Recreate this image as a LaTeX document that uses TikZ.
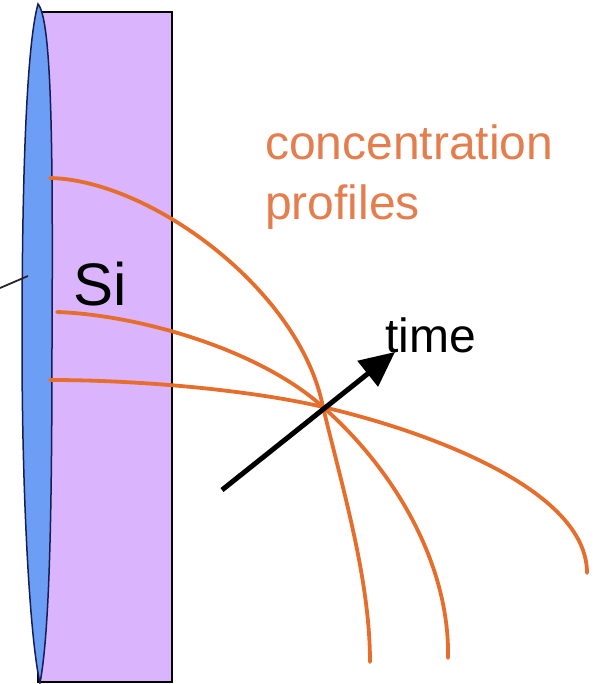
\documentclass[tikz,border=0pt]{standalone}
\usepackage{fontspec}
\setmainfont{Liberation Sans}
\usetikzlibrary{arrows.meta}
\definecolor{siviolet}{RGB}{218,180,252}
\definecolor{lensblue}{RGB}{108,158,246}
\definecolor{lensedge}{RGB}{20,30,80}
\definecolor{profile}{RGB}{230,110,45}
\definecolor{labelorange}{RGB}{228,126,78}
\tikzset{
  profileline/.style={draw=profile, line width=3.8pt, line cap=round},
  bigtext/.style={inner sep=0pt, font=\fontsize{48}{58}\selectfont},
  timearrow/.style={line width=5pt, -{Triangle[length=35pt,width=32pt]}},
}
\begin{document}
\begin{tikzpicture}[x=1pt,y=-1pt]
\useasboundingbox (0,0) rectangle (598,684);
% silicon slab
\draw[fill=siviolet, line width=2.2pt] (38,12) rectangle (172,682);
% lens-like layer
\draw[fill=lensblue, draw=lensedge, line width=1.5pt]
  (38,4) .. controls (52,20) and (53,150) .. (52,343)
  .. controls (52,550) and (48,640) .. (40,683)
  .. controls (30,640) and (22,500) .. (22,343)
  .. controls (22,150) and (28,40) .. (38,4) -- cycle;
% leader line (cropped)
\coordinate (leadA) at (0,288);
\coordinate (leadB) at (28,276);
\draw[line width=1.8pt, draw=black!85] (leadA) -- (leadB);
% profiles
\coordinate (cross) at (323,407);
\coordinate (p1s) at (50,178);
\coordinate (p1e) at (370,662);
\coordinate (p2s) at (57,312);
\coordinate (p2e) at (448,658);
\coordinate (p3s) at (50,380);
\coordinate (p3e) at (587,573);
\draw[profileline] (p1s) .. controls (150,180) and (300,290) .. (cross)
  .. controls (343,490) and (370,580) .. (p1e);
\draw[profileline] (p2s) .. controls (140,315) and (260,350) .. (cross)
  .. controls (400,475) and (450,570) .. (p2e);
\draw[profileline] (p3s) .. controls (150,380) and (260,392) .. (cross)
  .. controls (430,432) and (587,490) .. (p3e);
% time arrow
\coordinate (tstart) at (222,490);
\coordinate (tend) at (395,352);
\draw[timearrow] (tstart) -- (tend);
% labels
\node[bigtext, anchor=base west, font=\fontsize{60}{70}\selectfont] (si) at (73,305) {Si};
\node[bigtext, anchor=base west] (time) at (385,352) {time};
\node[bigtext, anchor=base west, text=labelorange] (conc) at (265,160) {concentration};
\node[bigtext, anchor=base west, text=labelorange] (prof) at (265,220) {profiles};
\end{tikzpicture}
\end{document}
